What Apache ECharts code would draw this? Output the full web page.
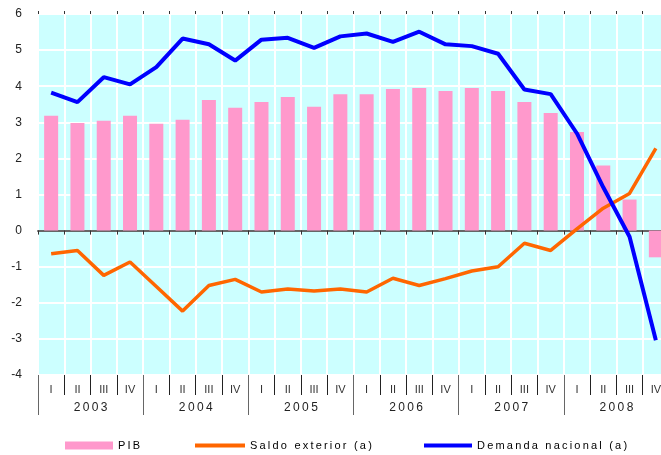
<!DOCTYPE html>
<html>
<head>
<meta charset="utf-8">
<script src="https://cdn.jsdelivr.net/npm/echarts@6/dist/echarts.min.js"></script>
<style>
  html, body { margin: 0; padding: 0; background: #ffffff; overflow: hidden; }
  /* the plot runs a few px past the right edge of the picture, as in the reference */
  #chart { width: 669px; height: 455px; }
</style>
</head>
<body>
<div id="chart"></div>
<script>
// quarters 2003 I .. 2008 IV
const quarters = ['I', 'II', 'III', 'IV', 'I', 'II', 'III', 'IV', 'I', 'II', 'III', 'IV',
  'I', 'II', 'III', 'IV', 'I', 'II', 'III', 'IV', 'I', 'II', 'III', 'IV'];
const years = ['2003', '2004', '2005', '2006', '2007', '2008'];

const pib = [3.18, 2.98, 3.04, 3.18, 2.96, 3.07, 3.62, 3.40, 3.56, 3.70, 3.43, 3.78,
  3.78, 3.92, 3.95, 3.87, 3.95, 3.87, 3.56, 3.26, 2.73, 1.80, 0.86, -0.74];
const saldoExterior = [-0.64, -0.55, -1.24, -0.87, -1.55, -2.23, -1.52, -1.35, -1.70, -1.62, -1.67, -1.62,
  -1.70, -1.32, -1.52, -1.33, -1.12, -1.00, -0.35, -0.55, 0.05, 0.62, 1.03, 2.28];
const demandaNacional = [3.82, 3.56, 4.25, 4.05, 4.53, 5.32, 5.16, 4.71, 5.29, 5.34, 5.06, 5.38,
  5.46, 5.23, 5.51, 5.16, 5.11, 4.90, 3.91, 3.78, 2.69, 1.20, -0.17, -3.04];

const FONT = 'Liberation Sans, Arial, sans-serif';
const spaced = (s) => s.split('').join('\u2009');

const chart = echarts.init(document.getElementById('chart'), null, { renderer: 'canvas' });

const legendBase = {
  top: 440,
  padding: 0,
  itemGap: 0,
  icon: 'rect',
  textStyle: { fontFamily: FONT, fontSize: 11, color: '#000' },
  formatter: (name) => spaced(name),
};

chart.setOption({
  backgroundColor: '#ffffff',
  animation: false,
  textStyle: { fontFamily: FONT },
  grid: {
    left: 38, top: 14, width: 631, height: 361,
    show: true, backgroundColor: '#ccffff', borderWidth: 0,
  },
  legend: [
    Object.assign({}, legendBase, { left: 65, data: ['PIB'], itemWidth: 48, itemHeight: 8 }),
    Object.assign({}, legendBase, { left: 195, data: ['Saldo exterior (a)'], itemWidth: 50, itemHeight: 4 }),
    Object.assign({}, legendBase, { left: 424, data: ['Demanda nacional (a)'], itemWidth: 48, itemHeight: 4 }),
  ],
  xAxis: [
    {
      type: 'category',
      data: quarters,
      position: 'bottom',
      axisLine: { show: false, onZero: false },
      axisTick: { show: true, interval: 0, length: 20, lineStyle: { color: '#222', width: 1 } },
      axisLabel: { interval: 0, margin: 9, fontSize: 11, color: '#333', fontFamily: FONT },
      splitLine: { show: true, interval: 0, lineStyle: { color: '#ffffff', width: 2 } },
    },
    {
      type: 'category',
      data: years,
      position: 'bottom',
      axisLine: { show: false, onZero: false },
      axisTick: { show: true, interval: 0, length: 40, lineStyle: { color: '#666', width: 1 } },
      axisLabel: {
        interval: 0, margin: 27, fontSize: 12, color: '#222', fontFamily: FONT,
        formatter: (v) => spaced(v),
      },
      splitLine: { show: false },
    },
    {
      type: 'category',
      data: quarters,
      axisLine: { show: true, onZero: true, lineStyle: { color: '#666', width: 2 } },
      axisTick: { show: true, interval: 0, inside: true, length: 4, lineStyle: { color: '#333', width: 1 } },
      axisLabel: { show: false },
      splitLine: { show: false },
    },
    {
      type: 'category',
      data: quarters,
      axisLine: { show: false, onZero: true },
      axisTick: { show: true, interval: 0, length: 3, lineStyle: { color: '#333', width: 1 } },
      axisLabel: { show: false },
      splitLine: { show: false },
    },
  ],
  yAxis: {
    type: 'value',
    min: -4, max: 6, interval: 1,
    axisLine: { show: false },
    axisTick: { show: false },
    axisLabel: { margin: 16, fontSize: 12, color: '#222', fontFamily: FONT },
    splitLine: { show: true, lineStyle: { color: '#ffffff', width: 2 } },
  },
  series: [
    {
      name: 'PIB',
      type: 'bar',
      xAxisIndex: 0,
      data: pib,
      barWidth: 14,
      itemStyle: { color: '#ff99cc' },
    },
    {
      name: 'Saldo exterior (a)',
      type: 'line',
      xAxisIndex: 0,
      data: saldoExterior,
      symbol: 'none',
      lineStyle: { color: '#ff6600', width: 3.5 },
      itemStyle: { color: '#ff6600' },
    },
    {
      name: 'Demanda nacional (a)',
      type: 'line',
      xAxisIndex: 0,
      data: demandaNacional,
      symbol: 'none',
      lineStyle: { color: '#0000ff', width: 4 },
      itemStyle: { color: '#0000ff' },
    },
  ],
});
</script>
</body>
</html>
